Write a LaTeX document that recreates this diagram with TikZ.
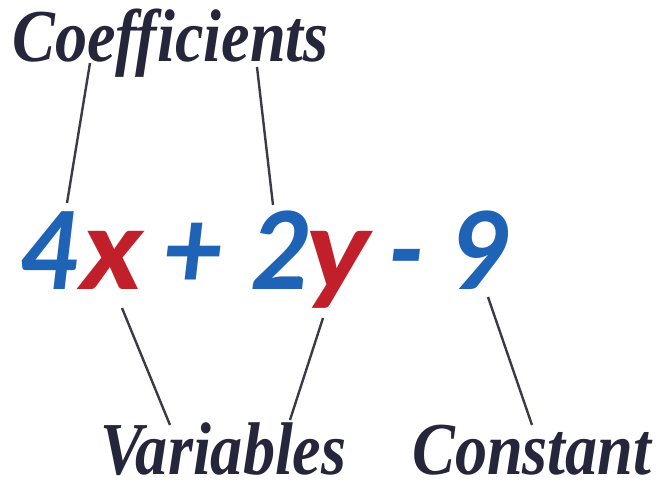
\documentclass[tikz,border=0pt]{standalone}
\usepackage{fontspec}
\setmainfont{Liberation Serif}
\newfontfamily\eqfont{Carlito}
\usetikzlibrary{positioning}
\definecolor{eqblue}{HTML}{1E63B5}
\definecolor{eqred}{HTML}{C1202A}
\definecolor{labelink}{HTML}{25253C}
\definecolor{leadgray}{HTML}{3A3A48}

\begin{document}
\begin{tikzpicture}[x=0.75pt, y=-0.75pt,
    tagtext/.style={font=\fontsize{56}{60}\selectfont\bfseries\itshape, text=labelink,
                    inner sep=0pt, anchor=base west, xscale=0.86},
    eqpart/.style={font=\eqfont\fontsize{90}{96}\selectfont\bfseries\itshape,
                   inner sep=0pt, anchor=base west, xscale=0.95},
    eqvar/.style={eqpart, text=eqred, xscale=1.2},
    leader/.style={draw=leadgray, line width=1.8pt}]
    \useasboundingbox (0,0) rectangle (662,484);
    % ── labels ───────────────────────────────────────────
    \node[tagtext] (coef) at (12,62) {Coefficients};
    \node[tagtext] (vars) at (100,475) {Variables};
    \node[tagtext] (const) at (412,475) {Constant};
    % ── equation ─────────────────────────────────────────
    \node[eqpart, text=eqblue] (four) at (19,290) {4};
    \node[eqvar] (varx) at (80,290) {x};
    \node[eqpart, text=eqblue] (plus) at (164,290) {+};
    \node[eqpart, text=eqblue] (two) at (250,290) {2};
    \node[eqvar] (vary) at (305,290) {y};
    \node[eqpart, text=eqblue] (minus) at (388,290) {-};
    \node[eqpart, text=eqblue] (nine) at (448,290) {9};
    % ── leader ends ──────────────────────────────────────
    \coordinate (coefA) at (90,63);
    \coordinate (coefB) at (257,67);
    \coordinate (fourT) at (67,203);
    \coordinate (twoT) at (273,205);
    \coordinate (xB) at (122,308);
    \coordinate (yB) at (323,318);
    \coordinate (varsA) at (170,425);
    \coordinate (varsB) at (290,420);
    \coordinate (nineB) at (488,297);
    \coordinate (constT) at (532,425);
    % ── leaders ──────────────────────────────────────────
    \draw[leader] (coefA) -- (fourT);
    \draw[leader] (coefB) -- (twoT);
    \draw[leader] (xB) -- (varsA);
    \draw[leader] (yB) -- (varsB);
    \draw[leader] (nineB) -- (constT);
\end{tikzpicture}
\end{document}
